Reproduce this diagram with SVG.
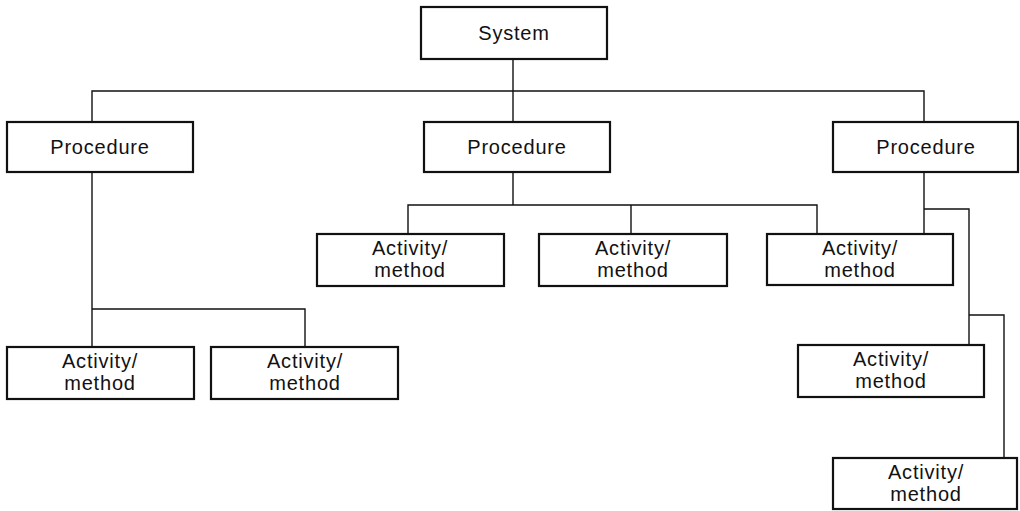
<svg xmlns="http://www.w3.org/2000/svg" width="1020" height="511" viewBox="0 0 1020 511">
  <style>
    .box { fill: #ffffff; stroke: #111111; stroke-width: 2.2; }
    .lbl { font-family: "Liberation Sans", Arial, sans-serif; font-size: 20px; letter-spacing: 0.8px; fill: #111111; text-anchor: middle; }
    .wire { fill: none; stroke: #111111; stroke-width: 1.4; }
  </style>
  <rect width="1020" height="511" fill="#ffffff"/>

  <!-- connectors -->
  <g id="connectors" class="wire">
    <path d="M513 59 V91"/>
    <path d="M92 122 V91 H924 V122"/>
    <path d="M513 91 V122"/>
    <!-- left procedure -->
    <path d="M92 172 V347"/>
    <path d="M92 309 H305 V347"/>
    <!-- middle procedure -->
    <path d="M513 172 V205"/>
    <path d="M408 234 V205 H817 V234"/>
    <path d="M631 205 V234"/>
    <!-- right procedure -->
    <path d="M924 172 V234"/>
    <path d="M924 209 H969 V345"/>
    <path d="M969 315 H1004 V458"/>
  </g>

  <g id="system">
    <rect class="box" x="421" y="7" width="186" height="52"/>
    <text class="lbl" x="514" y="40">System</text>
  </g>

  <g id="procedure-left">
    <rect class="box" x="7" y="122" width="186" height="50"/>
    <text class="lbl" x="100" y="154">Procedure</text>
  </g>
  <g id="procedure-middle">
    <rect class="box" x="424" y="122" width="186" height="50"/>
    <text class="lbl" x="517" y="154">Procedure</text>
  </g>
  <g id="procedure-right">
    <rect class="box" x="833" y="122" width="185" height="50"/>
    <text class="lbl" x="926" y="154">Procedure</text>
  </g>

  <g id="activity-m1">
    <rect class="box" x="317" y="234" width="187" height="52"/>
    <text class="lbl" x="410" y="255">Activity/</text>
    <text class="lbl" x="410" y="277">method</text>
  </g>
  <g id="activity-m2">
    <rect class="box" x="539" y="234" width="188" height="52"/>
    <text class="lbl" x="633" y="255">Activity/</text>
    <text class="lbl" x="633" y="277">method</text>
  </g>
  <g id="activity-m3">
    <rect class="box" x="767" y="234" width="186" height="51"/>
    <text class="lbl" x="860" y="255">Activity/</text>
    <text class="lbl" x="860" y="277">method</text>
  </g>

  <g id="activity-l1">
    <rect class="box" x="7" y="347" width="187" height="52"/>
    <text class="lbl" x="100" y="368">Activity/</text>
    <text class="lbl" x="100" y="390">method</text>
  </g>
  <g id="activity-l2">
    <rect class="box" x="211" y="347" width="187" height="52"/>
    <text class="lbl" x="305" y="368">Activity/</text>
    <text class="lbl" x="305" y="390">method</text>
  </g>

  <g id="activity-r1">
    <rect class="box" x="798" y="345" width="186" height="52"/>
    <text class="lbl" x="891" y="366">Activity/</text>
    <text class="lbl" x="891" y="388">method</text>
  </g>
  <g id="activity-r2">
    <rect class="box" x="833" y="458" width="184" height="51"/>
    <text class="lbl" x="926" y="479">Activity/</text>
    <text class="lbl" x="926" y="501">method</text>
  </g>
</svg>
